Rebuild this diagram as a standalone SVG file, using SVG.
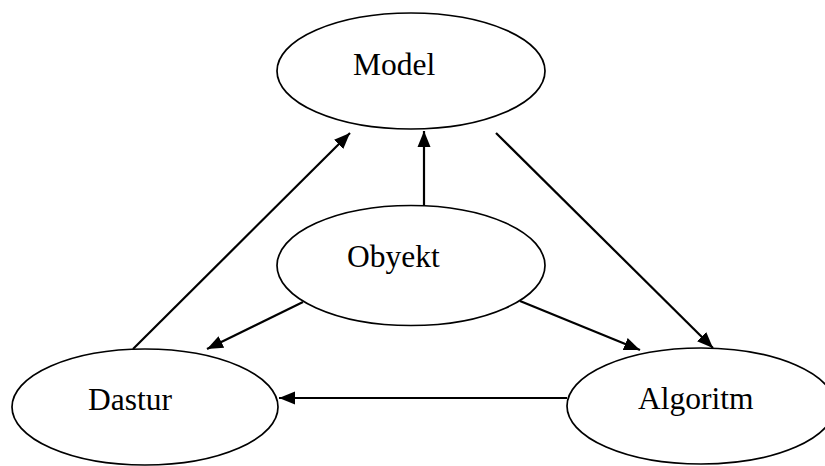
<svg xmlns="http://www.w3.org/2000/svg" width="825" height="466" viewBox="0 0 825 466">
  <style>
    .node ellipse { fill: #ffffff; stroke: #000000; stroke-width: 1.7; }
    .node text { font-family: "Liberation Serif", "Times New Roman", serif; font-size: 31.5px; fill: #000000; }
    .edges line { stroke: #000000; stroke-width: 2.2; marker-end: url(#arrow); }
  </style>
  <defs>
    <marker id="arrow" markerUnits="userSpaceOnUse" markerWidth="18" markerHeight="16" viewBox="0 -8 18 16" refX="16" refY="0" orient="auto">
      <path d="M0,-6.5 L16,0 L0,6.5 z" fill="#000000"/>
    </marker>
  </defs>
  <rect width="825" height="466" fill="#ffffff"/>

  <g id="node-model" class="node">
    <ellipse cx="411" cy="71" rx="134" ry="58"/>
    <text x="353" y="75">Model</text>
  </g>
  <g id="node-obyekt" class="node">
    <ellipse cx="411" cy="265.5" rx="134" ry="60"/>
    <text x="347" y="267">Obyekt</text>
  </g>
  <g id="node-dastur" class="node">
    <ellipse cx="145" cy="407" rx="133" ry="58"/>
    <text x="88" y="410">Dastur</text>
  </g>
  <g id="node-algoritm" class="node">
    <ellipse cx="701" cy="406" rx="134" ry="58"/>
    <text x="638" y="409">Algoritm</text>
  </g>

  <g id="edges" class="edges">
    <line x1="133" y1="349" x2="350" y2="133"/>
    <line x1="424" y1="205" x2="424" y2="131"/>
    <line x1="496" y1="133" x2="713" y2="348"/>
    <line x1="520" y1="301" x2="640" y2="350"/>
    <line x1="303" y1="302" x2="207" y2="349"/>
    <line x1="567" y1="398" x2="279" y2="398"/>
  </g>
</svg>
